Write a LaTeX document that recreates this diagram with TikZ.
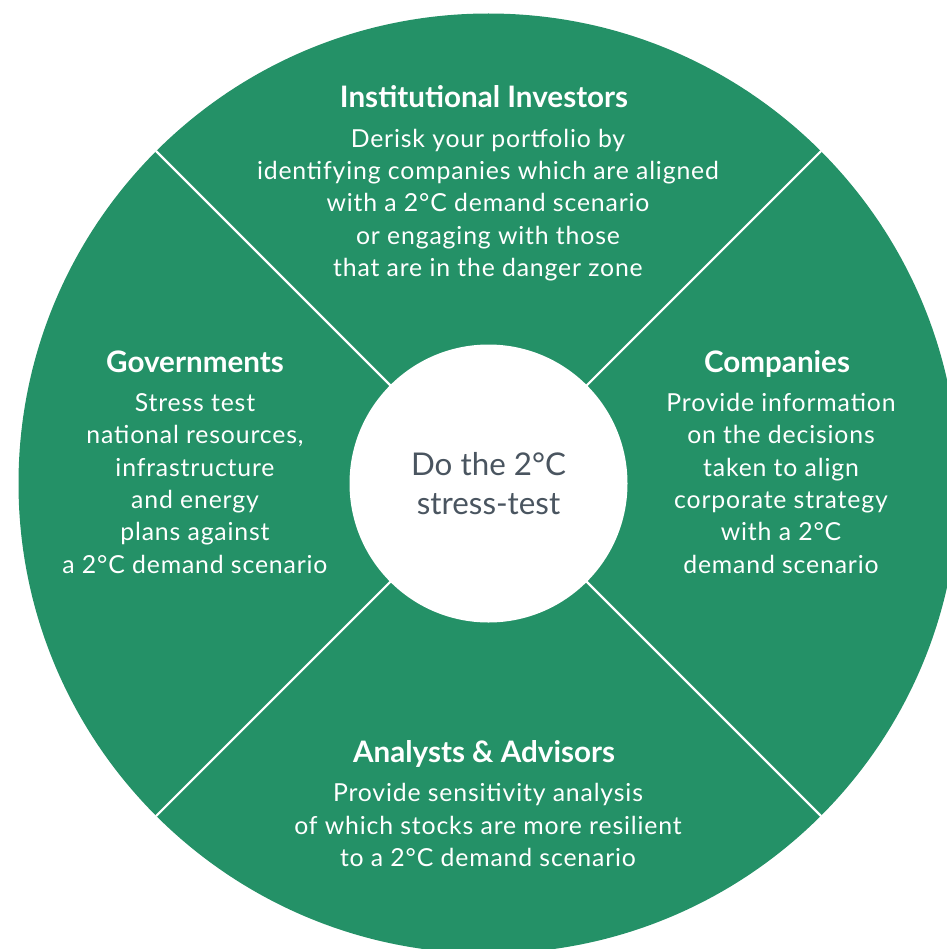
\documentclass[tikz,border=0pt]{standalone}
\usepackage{fontspec}
\setmainfont{Lato}
\newfontfamily\bodyfont[LetterSpace=3.4]{Lato}
\usepackage{tikz}
\usetikzlibrary{positioning}
\definecolor{wheelgreen}{RGB}{36,145,103}
\definecolor{hubgray}{RGB}{74,85,96}
\tikzset{%
	wheel/.style={circle, fill=wheelgreen, inner sep=0pt, minimum size=705pt},
	hub/.style={circle, fill=white, inner sep=0pt, minimum size=208.5pt, align=center, text=hubgray, font=\fontsize{23.5}{30}\selectfont},
	divider/.style={draw=white, line width=1.6pt},
	headtext/.style={text=white, anchor=base, inner sep=0pt, font=\fontsize{22.2}{26}\selectfont\bfseries},
	bodytext/.style={text=white, anchor=base, inner sep=0pt, align=center, font=\bodyfont\fontsize{18.6}{24.2}\selectfont}}

\begin{document}
\begin{tikzpicture}[x=0.75pt, y=-0.75pt]
		\useasboundingbox (0,0) rectangle (946,949);
		\node[wheel] (wheel) at (488.5,483.5) {};
		\draw[divider] (wheel.center) -- (wheel.45);
		\draw[divider] (wheel.center) -- (wheel.135);
		\draw[divider] (wheel.center) -- (wheel.225);
		\draw[divider] (wheel.center) -- (wheel.315);
		\node[hub] (hub) at (488.5,483.5) {Do the 2°C\\[-1pt]stress-test};
		
		% multi-line text sits on the baseline of its last line
		\node[headtext] (invtitle) at (484,108) {Institutional Investors};
		\node[bodytext] (invbody) at (488,276.5) {Derisk your portfolio by\\identifying companies which are aligned\\with a 2°C demand scenario\\or engaging with those\\that are in the danger zone};
		
		\node[headtext] (govtitle) at (195,372) {Governments};
		\node[bodytext] (govbody) at (195,573) {Stress test\\national resources,\\infrastructure\\and energy\\plans against\\a 2°C demand scenario};
		
		\node[headtext] (comptitle) at (777,372) {Companies};
		\node[bodytext] (compbody) at (781,573) {Provide information\\on the decisions\\taken to align\\corporate strategy\\with a 2°C\\demand scenario};
		
		\node[headtext] (anatitle) at (484,762) {Analysts \& Advisors};
		\node[bodytext] (anabody) at (488,866.5) {Provide sensitivity analysis\\of which stocks are more resilient\\to a 2°C demand scenario};
	\end{tikzpicture}
\end{document}
